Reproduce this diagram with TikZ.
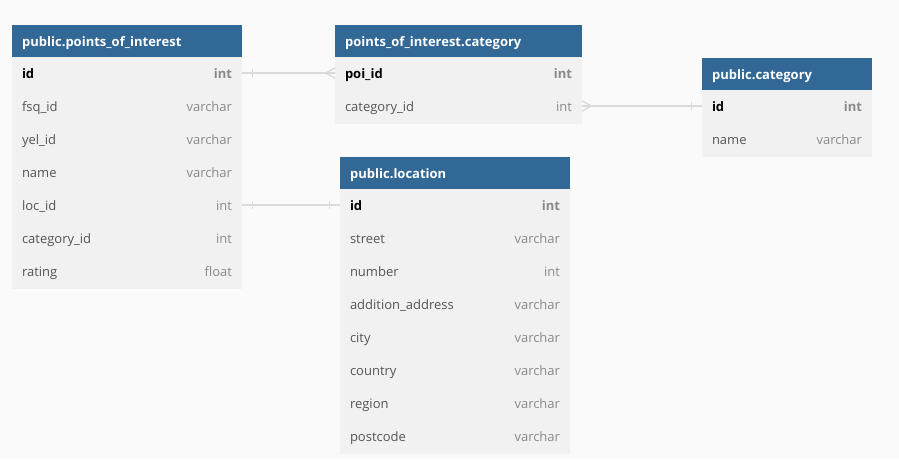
\documentclass[tikz,border=0pt]{standalone}
\usepackage{fontspec}
\setmainfont{Open Sans}
\definecolor{hdr}{HTML}{316896}
\definecolor{bodyc}{HTML}{F1F1F1}
\definecolor{bgc}{HTML}{FAFAFA}
\definecolor{namec}{HTML}{555555}
\definecolor{typec}{HTML}{8A8A8A}
\definecolor{linec}{HTML}{DADADA}
\tikzset{
  hdrbox/.style={fill=hdr, draw=none, minimum height=32pt, inner sep=0pt, anchor=north west},
  bodybox/.style={fill=bodyc, draw=none, inner sep=0pt, anchor=north west},
  rowbox/.style={draw=none, minimum height=33pt, inner sep=0pt},
  title/.style={text=white, font=\fontsize{13}{15}\selectfont\bfseries, anchor=base west, inner sep=0pt},
  fname/.style={text=namec, font=\fontsize{13}{15}\selectfont, anchor=base west, inner sep=0pt},
  ftype/.style={text=typec, font=\fontsize{13}{15}\selectfont, anchor=base east, inner sep=0pt},
  pkname/.style={text=black, font=\fontsize{13}{15}\selectfont\bfseries, anchor=base west, inner sep=0pt},
  pktype/.style={text=typec, font=\fontsize{13}{15}\selectfont\bfseries, anchor=base east, inner sep=0pt},
  rel/.style={draw=linec, line width=1.3pt},
}
\begin{document}
\begin{tikzpicture}[x=1pt,y=-1pt]
\fill[bgc] (0,0) rectangle (899,459);
\useasboundingbox (0,0) rectangle (899,459);

% ---------- public.points_of_interest ----------
\node[bodybox, minimum width=230pt, minimum height=232pt] (poiBody) at (12,57) {};
\node[hdrbox, minimum width=230pt] (poiHdr) at (12,25) {};
\node[title] (poiT) at ([xshift=10pt,yshift=-5pt]poiHdr.west) {public.points\_of\_interest};
\foreach \n/\y in {id/73, fsq/106, yel/139, name/172, loc/205, cat/238, rating/271}{
  \node[rowbox, minimum width=230pt] (poi-\n) at (127,\y) {};
}
\node[pkname] at ([xshift=10pt,yshift=-5pt]poi-id.west) {id};
\node[pktype] at ([xshift=-10pt,yshift=-5pt]poi-id.east) {int};
\foreach \n/\f/\t in {fsq/fsq\_id/varchar, yel/yel\_id/varchar, name/name/varchar, loc/loc\_id/int, cat/category\_id/int, rating/rating/float}{
  \node[fname] at ([xshift=10pt,yshift=-5pt]poi-\n.west) {\f};
  \node[ftype] at ([xshift=-10pt,yshift=-5pt]poi-\n.east) {\t};
}

% ---------- points_of_interest.category ----------
\node[bodybox, minimum width=247pt, minimum height=67pt] (pcBody) at (335,57) {};
\node[hdrbox, minimum width=247pt] (pcHdr) at (335,25) {};
\node[title] (pcT) at ([xshift=10pt,yshift=-5pt]pcHdr.west) {points\_of\_interest.category};
\node[rowbox, minimum width=247pt] (pc-poi) at (458.5,73) {};
\node[rowbox, minimum width=247pt] (pc-cat) at (458.5,106) {};
\node[pkname] at ([xshift=10pt,yshift=-5pt]pc-poi.west) {poi\_id};
\node[pktype] at ([xshift=-10pt,yshift=-5pt]pc-poi.east) {int};
\node[fname] at ([xshift=10pt,yshift=-5pt]pc-cat.west) {category\_id};
\node[ftype] at ([xshift=-10pt,yshift=-5pt]pc-cat.east) {int};

% ---------- public.category ----------
\node[bodybox, minimum width=170pt, minimum height=67pt] (catBody) at (702,90) {};
\node[hdrbox, minimum width=170pt] (catHdr) at (702,58) {};
\node[title] (catT) at ([xshift=10pt,yshift=-5pt]catHdr.west) {public.category};
\node[rowbox, minimum width=170pt] (cat-id) at (787,106) {};
\node[rowbox, minimum width=170pt] (cat-name) at (787,139) {};
\node[pkname] at ([xshift=10pt,yshift=-5pt]cat-id.west) {id};
\node[pktype] at ([xshift=-10pt,yshift=-5pt]cat-id.east) {int};
\node[fname] at ([xshift=10pt,yshift=-5pt]cat-name.west) {name};
\node[ftype] at ([xshift=-10pt,yshift=-5pt]cat-name.east) {varchar};

% ---------- public.location ----------
\node[bodybox, minimum width=230pt, minimum height=265pt] (locBody) at (340,189) {};
\node[hdrbox, minimum width=230pt] (locHdr) at (340,157) {};
\node[title] (locT) at ([xshift=10pt,yshift=-5pt]locHdr.west) {public.location};
\foreach \n/\y in {id/205, street/238, number/271, add/304, city/337, country/370, region/403, post/436}{
  \node[rowbox, minimum width=230pt] (loc-\n) at (455,\y) {};
}
\node[pkname] at ([xshift=10pt,yshift=-5pt]loc-id.west) {id};
\node[pktype] at ([xshift=-10pt,yshift=-5pt]loc-id.east) {int};
\foreach \n/\f/\t in {street/street/varchar, number/number/int, add/addition\_address/varchar, city/city/varchar, country/country/varchar, region/region/varchar, post/postcode/varchar}{
  \node[fname] at ([xshift=10pt,yshift=-5pt]loc-\n.west) {\f};
  \node[ftype] at ([xshift=-10pt,yshift=-5pt]loc-\n.east) {\t};
}

% ---------- relations ----------
% poi.id  --<  pc.poi_id
\draw[rel] (poi-id.east) -- (pc-poi.west);
\draw[rel] ([xshift=10pt]poi-id.east) ++(0,-4) -- ++(0,8);
\draw[rel] ([xshift=-9pt]pc-poi.west) -- ++(9,-5);
\draw[rel] ([xshift=-9pt]pc-poi.west) -- ++(9,5);

% pc.category_id  >--  category.id
\draw[rel] (pc-cat.east) -- (cat-id.west);
\draw[rel] ([xshift=9pt]pc-cat.east) -- ++(-9,-5);
\draw[rel] ([xshift=9pt]pc-cat.east) -- ++(-9,5);
\draw[rel] ([xshift=-10pt]cat-id.west) ++(0,-4) -- ++(0,8);

% poi.loc_id  --  location.id
\draw[rel] (poi-loc.east) -- (loc-id.west);
\draw[rel] ([xshift=10pt]poi-loc.east) ++(0,-4) -- ++(0,8);
\draw[rel] ([xshift=-10pt]loc-id.west) ++(0,-4) -- ++(0,8);
\end{tikzpicture}
\end{document}
